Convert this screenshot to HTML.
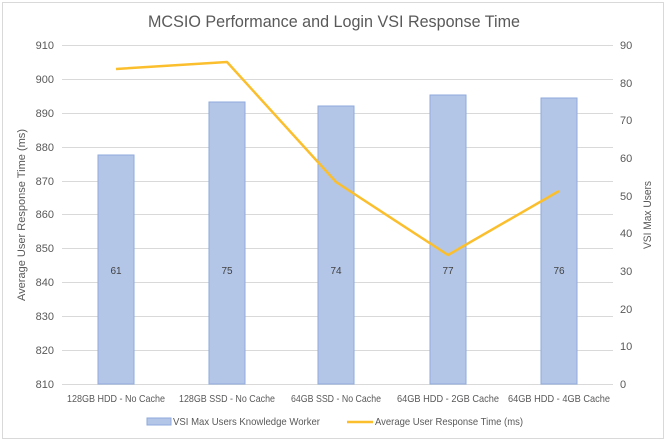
<!DOCTYPE html>
<html><head><meta charset="utf-8"><style>
body{margin:0;background:#fff}
svg{display:block;font-family:"Liberation Sans",sans-serif}
</style></head><body>
<svg width="668" height="443" viewBox="0 0 668 443">
<rect x="2.5" y="2.5" width="661" height="436" fill="#fff" stroke="#d9d9d9"/>
<text x="334" y="27" font-size="17" text-anchor="middle" fill="#595959" textLength="372" lengthAdjust="spacingAndGlyphs">MCSIO Performance and Login VSI Response Time</text>
<g stroke="#d9d9d9" stroke-width="1">
<line x1="62" x2="613" y1="45.5" y2="45.5"/><line x1="62" x2="613" y1="79.5" y2="79.5"/>
<line x1="62" x2="613" y1="113.5" y2="113.5"/><line x1="62" x2="613" y1="147.5" y2="147.5"/>
<line x1="62" x2="613" y1="181.5" y2="181.5"/><line x1="62" x2="613" y1="214.5" y2="214.5"/>
<line x1="62" x2="613" y1="248.5" y2="248.5"/><line x1="62" x2="613" y1="282.5" y2="282.5"/>
<line x1="62" x2="613" y1="316.5" y2="316.5"/><line x1="62" x2="613" y1="350.5" y2="350.5"/>
<line x1="62" x2="613" y1="384.5" y2="384.5"/>
</g>
<g font-size="11" fill="#595959" text-anchor="end">
<text x="54" y="49">910</text><text x="54" y="83">900</text><text x="54" y="117">890</text>
<text x="54" y="151">880</text><text x="54" y="185">870</text><text x="54" y="218">860</text>
<text x="54" y="252">850</text><text x="54" y="286">840</text><text x="54" y="320">830</text>
<text x="54" y="354">820</text><text x="54" y="388">810</text>
</g>
<g font-size="11" fill="#595959" text-anchor="start">
<text x="620" y="49">90</text><text x="620" y="87">80</text><text x="620" y="124">70</text>
<text x="620" y="162">60</text><text x="620" y="200">50</text><text x="620" y="237">40</text>
<text x="620" y="275">30</text><text x="620" y="313">20</text><text x="620" y="350">10</text>
<text x="620" y="388">0</text>
</g>
<text transform="translate(25,215) rotate(-90)" font-size="11" fill="#595959" text-anchor="middle" textLength="172" lengthAdjust="spacingAndGlyphs">Average User Response Time (ms)</text>
<text transform="translate(651,215) rotate(-90)" font-size="11" fill="#595959" text-anchor="middle" textLength="68" lengthAdjust="spacingAndGlyphs">VSI Max Users</text>
<g fill="#b4c6e7" stroke="#8faadc" stroke-width="1">
<rect x="98" y="155" width="36" height="229"/>
<rect x="209" y="102" width="36" height="282"/>
<rect x="318" y="106" width="36" height="278"/>
<rect x="430" y="95" width="36" height="289"/>
<rect x="541" y="98" width="36" height="286"/>
</g>
<g font-size="10" fill="#404040" text-anchor="middle">
<text x="116" y="274">61</text><text x="227" y="274">75</text><text x="336" y="274">74</text>
<text x="448" y="274">77</text><text x="559" y="274">76</text>
</g>
<polyline points="116,69 227,62 336,182 448,255 559,191" fill="none" stroke="#fbbf2d" stroke-width="2.5" stroke-linejoin="round"/>
<g font-size="10.5" fill="#595959" text-anchor="middle" lengthAdjust="spacingAndGlyphs">
<text x="116" y="402" textLength="98" lengthAdjust="spacingAndGlyphs">128GB HDD - No Cache</text>
<text x="227" y="402" textLength="96" lengthAdjust="spacingAndGlyphs">128GB SSD - No Cache</text>
<text x="336" y="402" textLength="90" lengthAdjust="spacingAndGlyphs">64GB SSD - No Cache</text>
<text x="448" y="402" textLength="102" lengthAdjust="spacingAndGlyphs">64GB HDD - 2GB Cache</text>
<text x="559" y="402" textLength="102" lengthAdjust="spacingAndGlyphs">64GB HDD - 4GB Cache</text>
</g>
<rect x="147" y="418" width="24" height="7" fill="#b4c6e7" stroke="#8faadc"/>
<text x="173" y="425" font-size="10.5" fill="#595959" textLength="147" lengthAdjust="spacingAndGlyphs">VSI Max Users Knowledge Worker</text>
<line x1="347" x2="373" y1="422" y2="422" stroke="#fbbf2d" stroke-width="2.5"/>
<text x="375" y="425" font-size="10.5" fill="#595959" textLength="148" lengthAdjust="spacingAndGlyphs">Average User Response Time (ms)</text>
</svg>
</body></html>
